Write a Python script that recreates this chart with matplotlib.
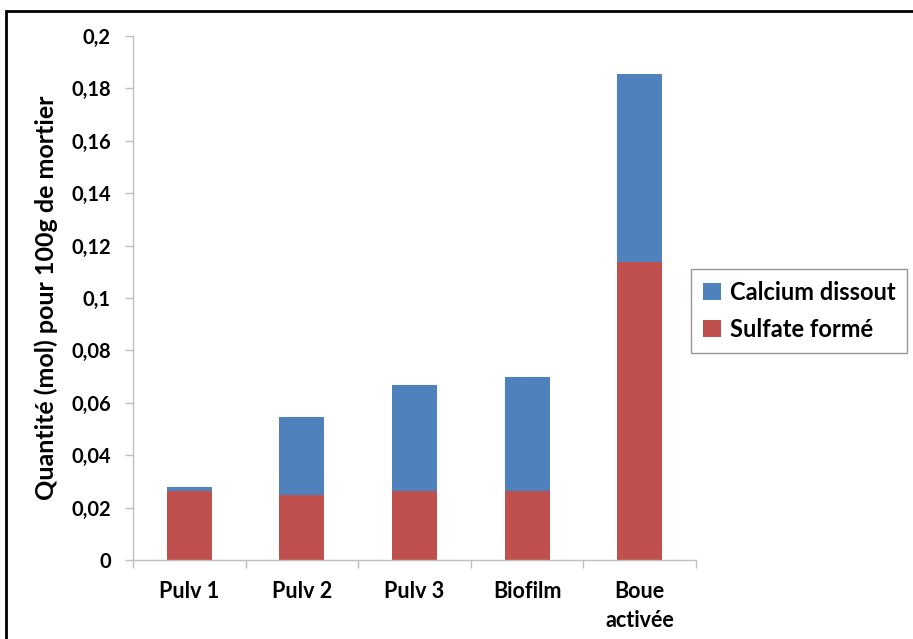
import matplotlib
matplotlib.use("Agg")
import matplotlib.pyplot as plt
from matplotlib.patches import Rectangle
import numpy as np

plt.rcParams['font.family'] = ['Lato', 'DejaVu Sans']
plt.rcParams['font.weight'] = 'bold'

categories = ["Pulv 1", "Pulv 2", "Pulv 3", "Biofilm", "Boue\nactivée"]
sulfate_forme = [0.0263, 0.0248, 0.0263, 0.0263, 0.1137]
calcium_dissout_total = [0.0279, 0.0546, 0.0668, 0.0698, 0.1855]
calcium_dissout = [t - s for t, s in zip(calcium_dissout_total, sulfate_forme)]
y_ticks = [0, 0.02, 0.04, 0.06, 0.08, 0.1, 0.12, 0.14, 0.16, 0.18, 0.2]
y_tick_labels = ["0", "0,02", "0,04", "0,06", "0,08", "0,1", "0,12", "0,14", "0,16", "0,18", "0,2"]

W, H = 913, 639
fig = plt.figure(figsize=(W / 100, H / 100), dpi=100)
ax = fig.add_axes([133 / W, 1 - 560 / H, (696 - 133) / W, (560 - 36) / H])

x = np.arange(len(categories))
red = "#C0504D"
blue = "#4F81BD"
b1 = ax.bar(x, sulfate_forme, width=0.4, color=red, label="Sulfate formé", zorder=2)
b2 = ax.bar(x, calcium_dissout, width=0.4, bottom=sulfate_forme, color=blue,
            label="Calcium dissout", zorder=2)

ax.set_xlim(-0.5, len(categories) - 0.5)
ax.set_ylim(0, 0.2)
ax.set_yticks(y_ticks)
ax.set_yticklabels(y_tick_labels)
ax.set_xticks(x)
ax.set_xticklabels(categories, linespacing=1.5)
ax.set_xticks(np.arange(len(categories) + 1) - 0.5, minor=True)
ax.tick_params(axis='x', which='major', length=0, pad=15, labelsize=15.5)
ax.tick_params(axis='x', which='minor', length=6, color="#BFBFBF", width=1)
ax.tick_params(axis='y', length=6, color="#BFBFBF", width=1, labelsize=14.5, pad=10)

for side in ("top", "right"):
    ax.spines[side].set_visible(False)
for side in ("left", "bottom"):
    ax.spines[side].set_color("#BFBFBF")
    ax.spines[side].set_linewidth(1)

ax.set_ylabel("Quantité (mol) pour 100g de mortier", fontsize=18, fontweight='bold')
ax.yaxis.set_label_coords(-75 / (696 - 133), 0.5)

leg = ax.legend([b2, b1], ["Calcium dissout", "Sulfate formé"],
                loc="center left", bbox_to_anchor=(691 / W, 1 - 311 / H),
                bbox_transform=fig.transFigure, fontsize=17, frameon=True,
                fancybox=False, edgecolor="#7F7F7F", handlelength=0.75,
                handleheight=0.75, handletextpad=0.4, borderpad=0.5,
                labelspacing=0.6, borderaxespad=0)
leg.get_frame().set_linewidth(1)

# outer frame of the figure
fig.patches.append(Rectangle((6 / W, -0.05), 1.0, 1 - 11 / H + 0.05,
                             transform=fig.transFigure, fill=False,
                             edgecolor="#000000", linewidth=2, clip_on=False))

fig.savefig("out.png", dpi=100)
